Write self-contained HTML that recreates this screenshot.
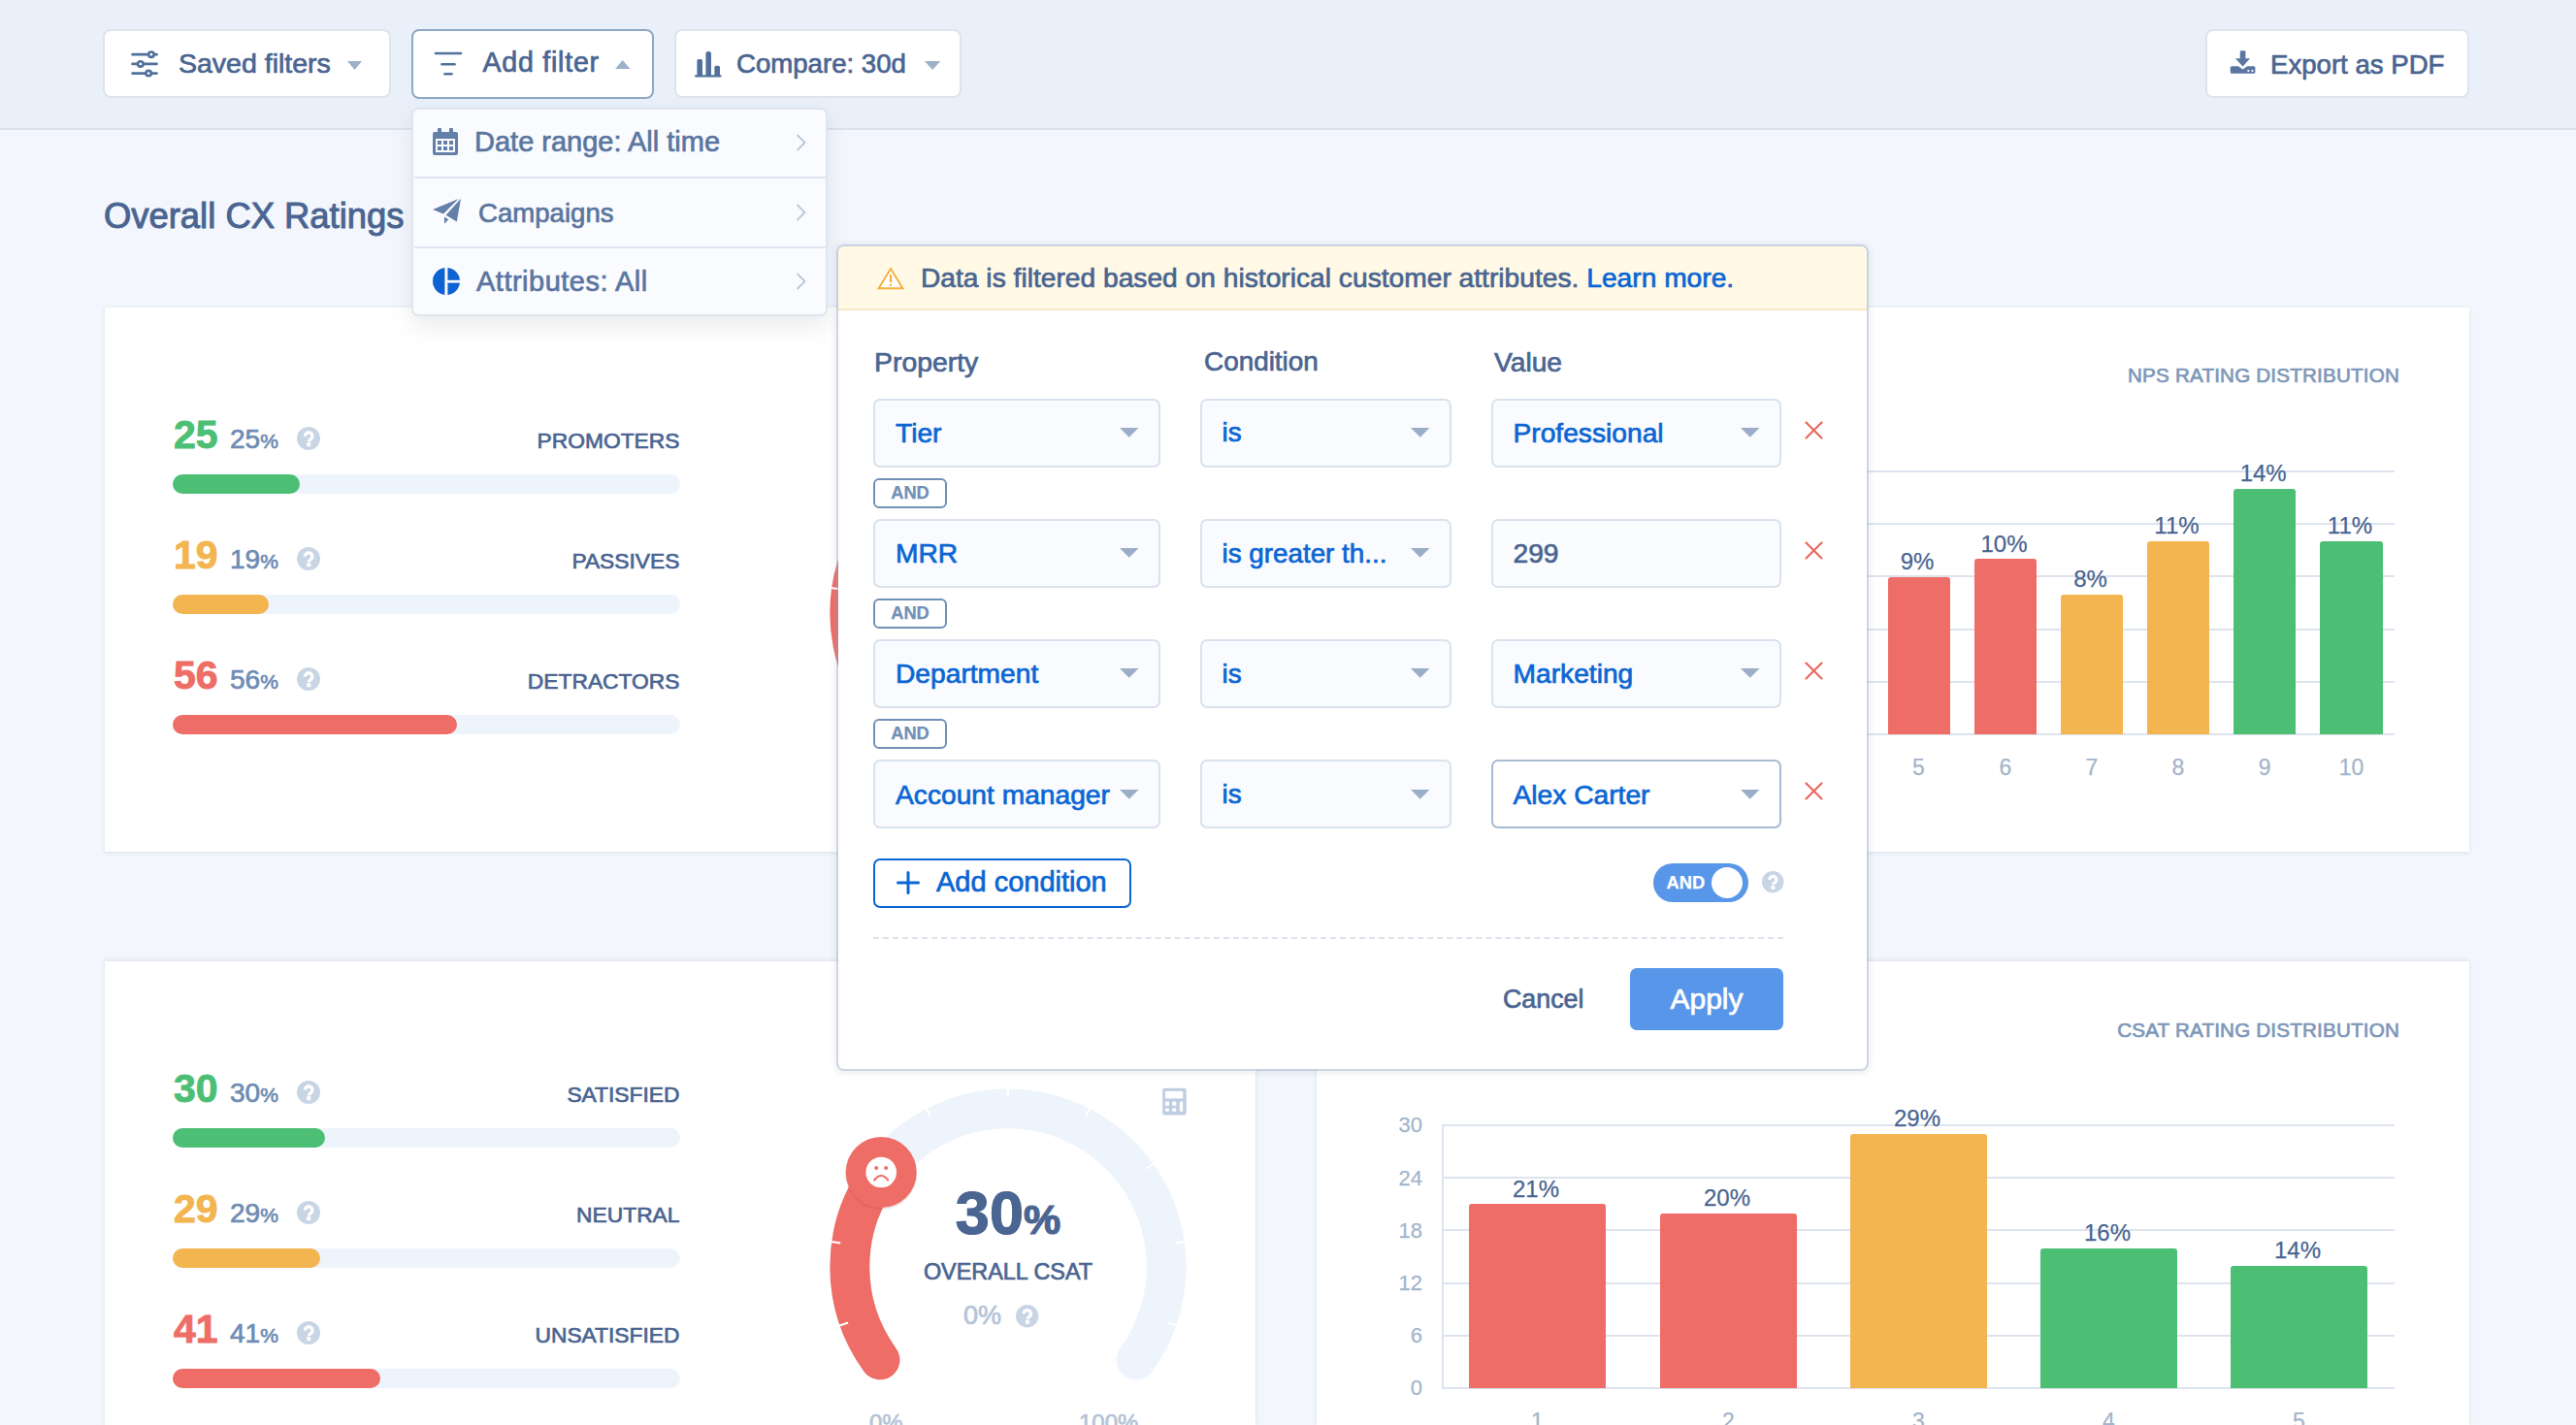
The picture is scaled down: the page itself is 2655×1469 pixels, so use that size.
<!DOCTYPE html>
<html><head><meta charset="utf-8"><style>
html,body{margin:0;padding:0;}
html{width:2655px;height:1469px;overflow:hidden;}
body{width:2655px;height:1469px;overflow:hidden;position:relative;background:#F3F6FC;font-family:"Liberation Sans", sans-serif;}
.t{position:absolute;white-space:nowrap;line-height:1;-webkit-text-stroke:0.7px currentColor;}
svg{overflow:visible;}
</style></head><body>
<div id="root" style="position:absolute;left:0;top:0;width:2655px;height:1469px;overflow:hidden;">
<div style="position:absolute;left:0px;top:0px;width:2655px;height:134px;box-sizing:border-box;background:#EAF0F9;border-bottom:2px solid #DAE2EC;"></div><div style="position:absolute;left:106px;top:30px;width:297px;height:71px;box-sizing:border-box;background:#fff;border:2px solid #DCE4EE;border-radius:8px;"></div><svg style="position:absolute;left:133px;top:48px;" width="32" height="34" viewBox="0 0 32 34"><g stroke="#52709C" stroke-width="2.7" stroke-linecap="round" fill="none">
<line x1="3.6" y1="8.2" x2="28.5" y2="8.2"/><line x1="3.6" y1="17.9" x2="28.5" y2="17.9"/><line x1="3.6" y1="27.6" x2="28.5" y2="27.6"/></g>
<g stroke="#52709C" stroke-width="2.6" fill="#fff"><circle cx="22.9" cy="8.2" r="2.7"/><circle cx="11.8" cy="17.9" r="2.7"/><circle cx="20.1" cy="27.6" r="2.7"/></g></svg><div class="t" style="left:184.0px;top:50.9px;font-size:28.5px;color:#4A6591;font-weight:400;">Saved filters</div><svg style="position:absolute;left:358px;top:63px;" width="15" height="9" viewBox="0 0 15 9"><polygon points="0,0 15,0 7.5,9" fill="#9DB1C9"/></svg><div style="position:absolute;left:424px;top:30px;width:250px;height:72px;box-sizing:border-box;background:#fff;border:2px solid #8FA8C7;border-radius:8px;"></div><svg style="position:absolute;left:446px;top:52px;" width="32" height="28" viewBox="0 0 32 28"><g stroke="#52709C" stroke-width="2.6" stroke-linecap="round">
<line x1="3" y1="3" x2="29" y2="3"/><line x1="9.5" y1="14.2" x2="22.5" y2="14.2"/><line x1="12.5" y1="24.3" x2="19.5" y2="24.3"/></g></svg><div class="t" style="left:497.5px;top:50.3px;font-size:28.6px;color:#4A6591;font-weight:400;letter-spacing:0.75px;">Add filter</div><svg style="position:absolute;left:633.5px;top:62px;" width="15.5" height="9" viewBox="0 0 15.5 9"><polygon points="0,9 15.5,9 7.75,0" fill="#9DB1C9"/></svg><div style="position:absolute;left:695px;top:30px;width:296px;height:71px;box-sizing:border-box;background:#fff;border:2px solid #DCE4EE;border-radius:8px;"></div><svg style="position:absolute;left:716px;top:52px;" width="28" height="28" viewBox="0 0 28 28"><g fill="#52709C">
<rect x="2.4" y="9" width="5.6" height="18" rx="1.5"/><rect x="11.4" y="1" width="5.6" height="26" rx="2.5"/><rect x="20.4" y="15.8" width="5.6" height="11" rx="1.5"/>
<rect x="0" y="25.2" width="27.6" height="2.4" rx="1"/></g></svg><div class="t" style="left:759.0px;top:51.6px;font-size:27.6px;color:#4A6591;font-weight:400;">Compare: 30d</div><svg style="position:absolute;left:952.5px;top:63.3px;" width="16.3" height="9" viewBox="0 0 16.3 9"><polygon points="0,0 16.3,0 8.15,9" fill="#9DB1C9"/></svg><div style="position:absolute;left:2273px;top:30px;width:272px;height:71px;box-sizing:border-box;background:#fff;border:2px solid #DCE4EE;border-radius:8px;"></div><svg style="position:absolute;left:2297px;top:51px;" width="29" height="26" viewBox="0 0 29 26"><g fill="#5A76A1">
<rect x="11.8" y="1.2" width="5.6" height="9" rx="0.8"/><polygon points="6.9,9.2 22.1,9.2 14.6,17.6"/>
<path d="M1.7,18.8 a1.5,1.5 0 0 1 1.5,-1.5 H9.9 L14.6,20.4 L19.2,17.3 H25.9 a1.5,1.5 0 0 1 1.5,1.5 V23.3 a1.5,1.5 0 0 1 -1.5,1.5 H3.2 a1.5,1.5 0 0 1 -1.5,-1.5 Z"/>
</g><g fill="#fff"><rect x="19.4" y="21" width="1.9" height="1.9"/><rect x="23.5" y="21" width="1.9" height="1.9"/></g></svg><div class="t" style="left:2340.0px;top:52.6px;font-size:27.6px;color:#4A6591;font-weight:400;">Export as PDF</div><div class="t" style="left:107.0px;top:205.2px;font-size:36.4px;color:#4A6591;font-weight:400;-webkit-text-stroke:1px currentColor;">Overall CX Ratings</div><div style="position:absolute;left:108px;top:317px;width:1186px;height:561px;box-sizing:border-box;background:#fff;box-shadow:0 1px 4px rgba(90,115,150,0.18);"></div><div style="position:absolute;left:1357px;top:317px;width:1188px;height:561px;box-sizing:border-box;background:#fff;box-shadow:0 1px 4px rgba(90,115,150,0.18);"></div><div style="position:absolute;left:108px;top:991px;width:1186px;height:478px;box-sizing:border-box;background:#fff;box-shadow:0 -1px 4px rgba(90,115,150,0.18);"></div><div style="position:absolute;left:1357px;top:991px;width:1188px;height:478px;box-sizing:border-box;background:#fff;box-shadow:0 -1px 4px rgba(90,115,150,0.18);"></div><div class="t" style="left:179.0px;top:427.5px;font-size:41px;color:#4DBF75;font-weight:700;-webkit-text-stroke:0.9px currentColor;">25</div><div class="t" style="left:237.0px;top:438.5px;font-size:28px;color:#6E8CB4;font-weight:400;">25<span style="font-size:21px">%</span></div><svg style="position:absolute;left:306px;top:439.7px;" width="24" height="24" viewBox="0 0 24 24"><circle cx="12" cy="12" r="12" fill="#C8D5E4"/><g transform="scale(1.000)"><path d="M8.4,9.6 A3.75,3.75 0 1 1 14.3,12.6 C12.9,13.5 12.3,14.1 12.3,15.2" stroke="#fff" stroke-width="3.4" fill="none"/><rect x="10.2" y="16.1" width="4.1" height="4.1" fill="#fff"/></g></svg><div class="t" style="right:1954.5px;top:442.9px;font-size:22.8px;color:#4A6591;font-weight:400;">PROMOTERS</div><div style="position:absolute;left:178px;top:489px;width:523px;height:20px;box-sizing:border-box;background:#EEF4FC;border-radius:10px;"></div><div style="position:absolute;left:178px;top:489px;width:130.75px;height:20px;box-sizing:border-box;background:#4DBF75;border-radius:10px;"></div><div class="t" style="left:179.0px;top:551.5px;font-size:41px;color:#F3B54F;font-weight:700;-webkit-text-stroke:0.9px currentColor;">19</div><div class="t" style="left:237.0px;top:562.5px;font-size:28px;color:#6E8CB4;font-weight:400;">19<span style="font-size:21px">%</span></div><svg style="position:absolute;left:306px;top:563.7px;" width="24" height="24" viewBox="0 0 24 24"><circle cx="12" cy="12" r="12" fill="#C8D5E4"/><g transform="scale(1.000)"><path d="M8.4,9.6 A3.75,3.75 0 1 1 14.3,12.6 C12.9,13.5 12.3,14.1 12.3,15.2" stroke="#fff" stroke-width="3.4" fill="none"/><rect x="10.2" y="16.1" width="4.1" height="4.1" fill="#fff"/></g></svg><div class="t" style="right:1954.5px;top:566.9px;font-size:22.8px;color:#4A6591;font-weight:400;">PASSIVES</div><div style="position:absolute;left:178px;top:613px;width:523px;height:20px;box-sizing:border-box;background:#EEF4FC;border-radius:10px;"></div><div style="position:absolute;left:178px;top:613px;width:99.37px;height:20px;box-sizing:border-box;background:#F3B54F;border-radius:10px;"></div><div class="t" style="left:179.0px;top:675.5px;font-size:41px;color:#EE6D66;font-weight:700;-webkit-text-stroke:0.9px currentColor;">56</div><div class="t" style="left:237.0px;top:686.5px;font-size:28px;color:#6E8CB4;font-weight:400;">56<span style="font-size:21px">%</span></div><svg style="position:absolute;left:306px;top:687.7px;" width="24" height="24" viewBox="0 0 24 24"><circle cx="12" cy="12" r="12" fill="#C8D5E4"/><g transform="scale(1.000)"><path d="M8.4,9.6 A3.75,3.75 0 1 1 14.3,12.6 C12.9,13.5 12.3,14.1 12.3,15.2" stroke="#fff" stroke-width="3.4" fill="none"/><rect x="10.2" y="16.1" width="4.1" height="4.1" fill="#fff"/></g></svg><div class="t" style="right:1954.5px;top:690.9px;font-size:22.8px;color:#4A6591;font-weight:400;">DETRACTORS</div><div style="position:absolute;left:178px;top:737px;width:523px;height:20px;box-sizing:border-box;background:#EEF4FC;border-radius:10px;"></div><div style="position:absolute;left:178px;top:737px;width:292.88px;height:20px;box-sizing:border-box;background:#EE6D66;border-radius:10px;"></div><div class="t" style="left:179.0px;top:1101.5px;font-size:41px;color:#4DBF75;font-weight:700;-webkit-text-stroke:0.9px currentColor;">30</div><div class="t" style="left:237.0px;top:1112.5px;font-size:28px;color:#6E8CB4;font-weight:400;">30<span style="font-size:21px">%</span></div><svg style="position:absolute;left:306px;top:1113.7px;" width="24" height="24" viewBox="0 0 24 24"><circle cx="12" cy="12" r="12" fill="#C8D5E4"/><g transform="scale(1.000)"><path d="M8.4,9.6 A3.75,3.75 0 1 1 14.3,12.6 C12.9,13.5 12.3,14.1 12.3,15.2" stroke="#fff" stroke-width="3.4" fill="none"/><rect x="10.2" y="16.1" width="4.1" height="4.1" fill="#fff"/></g></svg><div class="t" style="right:1954.5px;top:1116.9px;font-size:22.8px;color:#4A6591;font-weight:400;">SATISFIED</div><div style="position:absolute;left:178px;top:1163px;width:523px;height:20px;box-sizing:border-box;background:#EEF4FC;border-radius:10px;"></div><div style="position:absolute;left:178px;top:1163px;width:156.89999999999998px;height:20px;box-sizing:border-box;background:#4DBF75;border-radius:10px;"></div><div class="t" style="left:179.0px;top:1225.5px;font-size:41px;color:#F3B54F;font-weight:700;-webkit-text-stroke:0.9px currentColor;">29</div><div class="t" style="left:237.0px;top:1236.5px;font-size:28px;color:#6E8CB4;font-weight:400;">29<span style="font-size:21px">%</span></div><svg style="position:absolute;left:306px;top:1237.7px;" width="24" height="24" viewBox="0 0 24 24"><circle cx="12" cy="12" r="12" fill="#C8D5E4"/><g transform="scale(1.000)"><path d="M8.4,9.6 A3.75,3.75 0 1 1 14.3,12.6 C12.9,13.5 12.3,14.1 12.3,15.2" stroke="#fff" stroke-width="3.4" fill="none"/><rect x="10.2" y="16.1" width="4.1" height="4.1" fill="#fff"/></g></svg><div class="t" style="right:1954.5px;top:1240.9px;font-size:22.8px;color:#4A6591;font-weight:400;">NEUTRAL</div><div style="position:absolute;left:178px;top:1287px;width:523px;height:20px;box-sizing:border-box;background:#EEF4FC;border-radius:10px;"></div><div style="position:absolute;left:178px;top:1287px;width:151.66999999999996px;height:20px;box-sizing:border-box;background:#F3B54F;border-radius:10px;"></div><div class="t" style="left:179.0px;top:1349.5px;font-size:41px;color:#EE6D66;font-weight:700;-webkit-text-stroke:0.9px currentColor;">41</div><div class="t" style="left:237.0px;top:1360.5px;font-size:28px;color:#6E8CB4;font-weight:400;">41<span style="font-size:21px">%</span></div><svg style="position:absolute;left:306px;top:1361.7px;" width="24" height="24" viewBox="0 0 24 24"><circle cx="12" cy="12" r="12" fill="#C8D5E4"/><g transform="scale(1.000)"><path d="M8.4,9.6 A3.75,3.75 0 1 1 14.3,12.6 C12.9,13.5 12.3,14.1 12.3,15.2" stroke="#fff" stroke-width="3.4" fill="none"/><rect x="10.2" y="16.1" width="4.1" height="4.1" fill="#fff"/></g></svg><div class="t" style="right:1954.5px;top:1364.9px;font-size:22.8px;color:#4A6591;font-weight:400;">UNSATISFIED</div><div style="position:absolute;left:178px;top:1411px;width:523px;height:20px;box-sizing:border-box;background:#EEF4FC;border-radius:10px;"></div><div style="position:absolute;left:178px;top:1411px;width:214.43px;height:20px;box-sizing:border-box;background:#EE6D66;border-radius:10px;"></div><svg style="position:absolute;left:818.7px;top:412.4000000000001px;" width="440" height="440" viewBox="0 0 440 440"><path d="M88.01,315.90 A163.14999999999998,163.14999999999998 0 1 1 351.99,315.90" stroke="#EEF4FC" stroke-width="40.900000000000006" fill="none" stroke-linecap="round"/><path d="M88.01,315.90 A163.14999999999998,163.14999999999998 0 0 1 164.20,66.69" stroke="#EE6D66" stroke-width="40.900000000000006" fill="none" stroke-linecap="round"/><line x1="45.67" y1="280.71" x2="55.11" y2="277.42" stroke="#fff" stroke-width="2.2"/><line x1="37.24" y1="193.99" x2="47.14" y2="195.40" stroke="#fff" stroke-width="2.2"/><line x1="69.53" y1="113.06" x2="77.68" y2="118.86" stroke="#fff" stroke-width="2.2"/><line x1="135.33" y1="55.96" x2="139.92" y2="64.85" stroke="#fff" stroke-width="2.2"/><line x1="220.00" y1="35.40" x2="220.00" y2="45.40" stroke="#fff" stroke-width="2.2"/><line x1="304.67" y1="55.96" x2="300.08" y2="64.85" stroke="#fff" stroke-width="2.2"/><line x1="370.47" y1="113.06" x2="362.32" y2="118.86" stroke="#fff" stroke-width="2.2"/><line x1="402.76" y1="193.99" x2="392.86" y2="195.40" stroke="#fff" stroke-width="2.2"/><line x1="394.33" y1="280.71" x2="384.89" y2="277.42" stroke="#fff" stroke-width="2.2"/><circle cx="164.20" cy="68.19" r="37" fill="rgba(120,60,60,0.12)"/><circle cx="164.20" cy="66.69" r="36.5" fill="#EE6D66"/><circle cx="164.20" cy="66.69" r="15.8" fill="#fff"/><circle cx="159.20" cy="62.19" r="2" fill="#EE6D66"/><circle cx="169.20" cy="62.19" r="2" fill="#EE6D66"/><path d="M157.20,74.69 Q164.20,65.69 171.20,74.69" stroke="#EE6D66" stroke-width="2.2" fill="none" stroke-linecap="round"/></svg><svg style="position:absolute;left:1197px;top:447.4000000000001px;" width="27" height="30" viewBox="0 0 27 30"><rect x="1.2" y="0.7" width="24.5" height="27.7" rx="2.5" fill="#BFCEE1"/>
<g fill="#fff"><rect x="4" y="3.9" width="18.2" height="7.5"/><rect x="4" y="14.6" width="4" height="4.2"/><rect x="11.2" y="14.6" width="4" height="4.2"/>
<rect x="4" y="21.4" width="4" height="3.4" rx="0.8"/><rect x="11.2" y="21.4" width="4" height="3.4"/><rect x="18.9" y="14.6" width="3.3" height="10.2" rx="0.8"/></g></svg><svg style="position:absolute;left:818.7px;top:1086.4px;" width="440" height="440" viewBox="0 0 440 440"><path d="M88.01,315.90 A163.14999999999998,163.14999999999998 0 1 1 351.99,315.90" stroke="#EEF4FC" stroke-width="40.900000000000006" fill="none" stroke-linecap="round"/><path d="M88.01,315.90 A163.14999999999998,163.14999999999998 0 0 1 89.19,122.50" stroke="#EE6D66" stroke-width="40.900000000000006" fill="none" stroke-linecap="round"/><line x1="45.67" y1="280.71" x2="55.11" y2="277.42" stroke="#fff" stroke-width="2.2"/><line x1="37.24" y1="193.99" x2="47.14" y2="195.40" stroke="#fff" stroke-width="2.2"/><line x1="69.53" y1="113.06" x2="77.68" y2="118.86" stroke="#fff" stroke-width="2.2"/><line x1="135.33" y1="55.96" x2="139.92" y2="64.85" stroke="#fff" stroke-width="2.2"/><line x1="220.00" y1="35.40" x2="220.00" y2="45.40" stroke="#fff" stroke-width="2.2"/><line x1="304.67" y1="55.96" x2="300.08" y2="64.85" stroke="#fff" stroke-width="2.2"/><line x1="370.47" y1="113.06" x2="362.32" y2="118.86" stroke="#fff" stroke-width="2.2"/><line x1="402.76" y1="193.99" x2="392.86" y2="195.40" stroke="#fff" stroke-width="2.2"/><line x1="394.33" y1="280.71" x2="384.89" y2="277.42" stroke="#fff" stroke-width="2.2"/><circle cx="89.19" cy="124.00" r="37" fill="rgba(120,60,60,0.12)"/><circle cx="89.19" cy="122.50" r="36.5" fill="#EE6D66"/><circle cx="89.19" cy="122.50" r="15.8" fill="#fff"/><circle cx="84.19" cy="118.00" r="2" fill="#EE6D66"/><circle cx="94.19" cy="118.00" r="2" fill="#EE6D66"/><path d="M82.19,130.50 Q89.19,121.50 96.19,130.50" stroke="#EE6D66" stroke-width="2.2" fill="none" stroke-linecap="round"/></svg><div class="t" style="left:1039.0px;transform:translateX(-50%);top:1218.7px;font-size:63px;color:#4A6591;font-weight:700;-webkit-text-stroke:1.2px currentColor;">30<span style="font-size:43px">%</span></div><div class="t" style="left:1039.0px;transform:translateX(-50%);top:1300.3px;font-size:23.4px;color:#4A6591;font-weight:400;">OVERALL CSAT</div><div class="t" style="left:993.0px;top:1343.0px;font-size:27px;color:#B4C4D8;font-weight:400;">0%</div><svg style="position:absolute;left:1047.1px;top:1345.3px;" width="23.4" height="23.4" viewBox="0 0 23.4 23.4"><circle cx="11.7" cy="11.7" r="11.7" fill="#C8D5E4"/><g transform="scale(0.975)"><path d="M8.4,9.6 A3.75,3.75 0 1 1 14.3,12.6 C12.9,13.5 12.3,14.1 12.3,15.2" stroke="#fff" stroke-width="3.4" fill="none"/><rect x="10.2" y="16.1" width="4.1" height="4.1" fill="#fff"/></g></svg><div class="t" style="left:896.0px;top:1454.6px;font-size:24px;color:#B4C4D8;font-weight:400;">0%</div><div class="t" style="left:1112.0px;top:1454.6px;font-size:24px;color:#B4C4D8;font-weight:400;">100%</div><svg style="position:absolute;left:1197px;top:1121.4px;" width="27" height="30" viewBox="0 0 27 30"><rect x="1.2" y="0.7" width="24.5" height="27.7" rx="2.5" fill="#BFCEE1"/>
<g fill="#fff"><rect x="4" y="3.9" width="18.2" height="7.5"/><rect x="4" y="14.6" width="4" height="4.2"/><rect x="11.2" y="14.6" width="4" height="4.2"/>
<rect x="4" y="21.4" width="4" height="3.4" rx="0.8"/><rect x="11.2" y="21.4" width="4" height="3.4"/><rect x="18.9" y="14.6" width="3.3" height="10.2" rx="0.8"/></g></svg><div class="t" style="right:182.0px;top:377.3px;font-size:20.6px;color:#7E98B9;font-weight:400;letter-spacing:0.2px;">NPS RATING DISTRIBUTION</div><div style="position:absolute;left:1487px;top:756.0px;width:981px;height:2.0px;box-sizing:border-box;background:#DDE4EE;"></div><div class="t" style="right:1189.0px;top:746.4px;font-size:22px;color:#A3B5CB;font-weight:400;-webkit-text-stroke:0.25px currentColor;">0</div><div style="position:absolute;left:1487px;top:701.8px;width:981px;height:2.0px;box-sizing:border-box;background:#DDE4EE;"></div><div class="t" style="right:1189.0px;top:692.2px;font-size:22px;color:#A3B5CB;font-weight:400;-webkit-text-stroke:0.25px currentColor;">3</div><div style="position:absolute;left:1487px;top:647.6px;width:981px;height:2.0px;box-sizing:border-box;background:#DDE4EE;"></div><div class="t" style="right:1189.0px;top:638.0px;font-size:22px;color:#A3B5CB;font-weight:400;-webkit-text-stroke:0.25px currentColor;">6</div><div style="position:absolute;left:1487px;top:593.4px;width:981px;height:2.0px;box-sizing:border-box;background:#DDE4EE;"></div><div class="t" style="right:1189.0px;top:583.8px;font-size:22px;color:#A3B5CB;font-weight:400;-webkit-text-stroke:0.25px currentColor;">9</div><div style="position:absolute;left:1487px;top:539.2px;width:981px;height:2.0px;box-sizing:border-box;background:#DDE4EE;"></div><div class="t" style="right:1189.0px;top:529.6px;font-size:22px;color:#A3B5CB;font-weight:400;-webkit-text-stroke:0.25px currentColor;">12</div><div style="position:absolute;left:1487px;top:485.0px;width:981px;height:2.0px;box-sizing:border-box;background:#DDE4EE;"></div><div class="t" style="right:1189.0px;top:475.4px;font-size:22px;color:#A3B5CB;font-weight:400;-webkit-text-stroke:0.25px currentColor;">15</div><div style="position:absolute;left:1486px;top:485.0px;width:2px;height:273.0px;box-sizing:border-box;background:#DDE4EE;"></div><div style="position:absolute;left:1945.5px;top:594.6px;width:64.0px;height:162.39999999999998px;box-sizing:border-box;background:#EE6D66;border-radius:3px 3px 0 0;"></div><div class="t" style="left:1976.0px;transform:translateX(-50%);top:566.8px;font-size:24px;color:#4A6591;font-weight:400;-webkit-text-stroke:0.25px currentColor;">9%</div><div class="t" style="left:1977.5px;transform:translateX(-50%);top:780.0px;font-size:23px;color:#A3B5CB;font-weight:400;-webkit-text-stroke:0.25px currentColor;">5</div><div style="position:absolute;left:2035px;top:576.4px;width:64px;height:180.60000000000002px;box-sizing:border-box;background:#EE6D66;border-radius:3px 3px 0 0;"></div><div class="t" style="left:2065.5px;transform:translateX(-50%);top:548.6px;font-size:24px;color:#4A6591;font-weight:400;-webkit-text-stroke:0.25px currentColor;">10%</div><div class="t" style="left:2067.0px;transform:translateX(-50%);top:780.0px;font-size:23px;color:#A3B5CB;font-weight:400;-webkit-text-stroke:0.25px currentColor;">6</div><div style="position:absolute;left:2124px;top:612.5px;width:64px;height:144.5px;box-sizing:border-box;background:#F3B54F;border-radius:3px 3px 0 0;"></div><div class="t" style="left:2154.5px;transform:translateX(-50%);top:584.7px;font-size:24px;color:#4A6591;font-weight:400;-webkit-text-stroke:0.25px currentColor;">8%</div><div class="t" style="left:2156.0px;transform:translateX(-50%);top:780.0px;font-size:23px;color:#A3B5CB;font-weight:400;-webkit-text-stroke:0.25px currentColor;">7</div><div style="position:absolute;left:2213px;top:558.1px;width:64px;height:198.89999999999998px;box-sizing:border-box;background:#F3B54F;border-radius:3px 3px 0 0;"></div><div class="t" style="left:2243.5px;transform:translateX(-50%);top:530.3px;font-size:24px;color:#4A6591;font-weight:400;-webkit-text-stroke:0.25px currentColor;">11%</div><div class="t" style="left:2245.0px;transform:translateX(-50%);top:780.0px;font-size:23px;color:#A3B5CB;font-weight:400;-webkit-text-stroke:0.25px currentColor;">8</div><div style="position:absolute;left:2302.4px;top:504.1px;width:63.59999999999991px;height:252.89999999999998px;box-sizing:border-box;background:#4DBF75;border-radius:3px 3px 0 0;"></div><div class="t" style="left:2332.7px;transform:translateX(-50%);top:476.3px;font-size:24px;color:#4A6591;font-weight:400;-webkit-text-stroke:0.25px currentColor;">14%</div><div class="t" style="left:2334.2px;transform:translateX(-50%);top:780.0px;font-size:23px;color:#A3B5CB;font-weight:400;-webkit-text-stroke:0.25px currentColor;">9</div><div style="position:absolute;left:2391.4px;top:558.1px;width:64.19999999999982px;height:198.89999999999998px;box-sizing:border-box;background:#4DBF75;border-radius:3px 3px 0 0;"></div><div class="t" style="left:2422.0px;transform:translateX(-50%);top:530.3px;font-size:24px;color:#4A6591;font-weight:400;-webkit-text-stroke:0.25px currentColor;">11%</div><div class="t" style="left:2423.5px;transform:translateX(-50%);top:780.0px;font-size:23px;color:#A3B5CB;font-weight:400;-webkit-text-stroke:0.25px currentColor;">10</div><div class="t" style="right:182.0px;top:1051.6px;font-size:20.6px;color:#7E98B9;font-weight:400;letter-spacing:0.2px;">CSAT RATING DISTRIBUTION</div><div style="position:absolute;left:1487px;top:1430.0px;width:981px;height:2.0px;box-sizing:border-box;background:#DDE4EE;"></div><div class="t" style="right:1189.0px;top:1420.4px;font-size:22px;color:#A3B5CB;font-weight:400;-webkit-text-stroke:0.25px currentColor;">0</div><div style="position:absolute;left:1487px;top:1375.8px;width:981px;height:2.0px;box-sizing:border-box;background:#DDE4EE;"></div><div class="t" style="right:1189.0px;top:1366.2px;font-size:22px;color:#A3B5CB;font-weight:400;-webkit-text-stroke:0.25px currentColor;">6</div><div style="position:absolute;left:1487px;top:1321.6px;width:981px;height:2.0px;box-sizing:border-box;background:#DDE4EE;"></div><div class="t" style="right:1189.0px;top:1312.0px;font-size:22px;color:#A3B5CB;font-weight:400;-webkit-text-stroke:0.25px currentColor;">12</div><div style="position:absolute;left:1487px;top:1267.4px;width:981px;height:2.0px;box-sizing:border-box;background:#DDE4EE;"></div><div class="t" style="right:1189.0px;top:1257.8px;font-size:22px;color:#A3B5CB;font-weight:400;-webkit-text-stroke:0.25px currentColor;">18</div><div style="position:absolute;left:1487px;top:1213.2px;width:981px;height:2.0px;box-sizing:border-box;background:#DDE4EE;"></div><div class="t" style="right:1189.0px;top:1203.6px;font-size:22px;color:#A3B5CB;font-weight:400;-webkit-text-stroke:0.25px currentColor;">24</div><div style="position:absolute;left:1487px;top:1159.0px;width:981px;height:2.0px;box-sizing:border-box;background:#DDE4EE;"></div><div class="t" style="right:1189.0px;top:1149.4px;font-size:22px;color:#A3B5CB;font-weight:400;-webkit-text-stroke:0.25px currentColor;">30</div><div style="position:absolute;left:1486px;top:1159.0px;width:2px;height:273.0px;box-sizing:border-box;background:#DDE4EE;"></div><div style="position:absolute;left:1514px;top:1241.4px;width:141px;height:189.5999999999999px;box-sizing:border-box;background:#EE6D66;border-radius:3px 3px 0 0;"></div><div class="t" style="left:1583.0px;transform:translateX(-50%);top:1213.6px;font-size:24px;color:#4A6591;font-weight:400;-webkit-text-stroke:0.25px currentColor;">21%</div><div class="t" style="left:1584.5px;transform:translateX(-50%);top:1454.0px;font-size:23px;color:#A3B5CB;font-weight:400;-webkit-text-stroke:0.25px currentColor;">1</div><div style="position:absolute;left:1711px;top:1250.5px;width:141px;height:180.5px;box-sizing:border-box;background:#EE6D66;border-radius:3px 3px 0 0;"></div><div class="t" style="left:1780.0px;transform:translateX(-50%);top:1222.7px;font-size:24px;color:#4A6591;font-weight:400;-webkit-text-stroke:0.25px currentColor;">20%</div><div class="t" style="left:1781.5px;transform:translateX(-50%);top:1454.0px;font-size:23px;color:#A3B5CB;font-weight:400;-webkit-text-stroke:0.25px currentColor;">2</div><div style="position:absolute;left:1907px;top:1168.5px;width:141px;height:262.5px;box-sizing:border-box;background:#F3B54F;border-radius:3px 3px 0 0;"></div><div class="t" style="left:1976.0px;transform:translateX(-50%);top:1140.7px;font-size:24px;color:#4A6591;font-weight:400;-webkit-text-stroke:0.25px currentColor;">29%</div><div class="t" style="left:1977.5px;transform:translateX(-50%);top:1454.0px;font-size:23px;color:#A3B5CB;font-weight:400;-webkit-text-stroke:0.25px currentColor;">3</div><div style="position:absolute;left:2103px;top:1287px;width:141px;height:144.0px;box-sizing:border-box;background:#4DBF75;border-radius:3px 3px 0 0;"></div><div class="t" style="left:2172.0px;transform:translateX(-50%);top:1259.2px;font-size:24px;color:#4A6591;font-weight:400;-webkit-text-stroke:0.25px currentColor;">16%</div><div class="t" style="left:2173.5px;transform:translateX(-50%);top:1454.0px;font-size:23px;color:#A3B5CB;font-weight:400;-webkit-text-stroke:0.25px currentColor;">4</div><div style="position:absolute;left:2299px;top:1305px;width:141px;height:126.0px;box-sizing:border-box;background:#4DBF75;border-radius:3px 3px 0 0;"></div><div class="t" style="left:2368.0px;transform:translateX(-50%);top:1277.2px;font-size:24px;color:#4A6591;font-weight:400;-webkit-text-stroke:0.25px currentColor;">14%</div><div class="t" style="left:2369.5px;transform:translateX(-50%);top:1454.0px;font-size:23px;color:#A3B5CB;font-weight:400;-webkit-text-stroke:0.25px currentColor;">5</div><div style="position:absolute;left:424px;top:111px;width:429px;height:215px;box-sizing:border-box;background:#FAFBFE;border:2px solid #DFE6EF;border-radius:7px;box-shadow:0 10px 22px rgba(90,100,115,0.13);"></div><div style="position:absolute;left:427px;top:182px;width:424px;height:2px;box-sizing:border-box;background:#DFE6EF;"></div><div style="position:absolute;left:427px;top:254px;width:424px;height:2px;box-sizing:border-box;background:#DFE6EF;"></div><svg style="position:absolute;left:445px;top:131px;" width="28" height="30" viewBox="0 0 28 30"><g fill="#6480A8"><rect x="1" y="5" width="26" height="24" rx="2"/><rect x="6" y="1" width="4" height="7" rx="1"/><rect x="18" y="1" width="4" height="7" rx="1"/></g>
<rect x="4" y="12" width="20" height="14" fill="#FAFBFE"/>
<g fill="#6480A8"><rect x="6" y="14" width="4" height="4"/><rect x="12" y="14" width="4" height="4"/><rect x="18" y="14" width="4" height="4"/><rect x="6" y="20" width="4" height="4"/><rect x="12" y="20" width="4" height="4"/><rect x="18" y="20" width="4" height="4"/></g></svg><div class="t" style="left:489.0px;top:132.4px;font-size:29px;color:#5A76A0;font-weight:400;">Date range: All time</div><svg style="position:absolute;left:446px;top:204px;" width="30" height="28" viewBox="0 0 30 28"><g fill="#6480A8"><polygon points="0,12 26.5,1 11,16.6"/><polygon points="29,0.8 24.8,24.4 13.6,17.8"/><polygon points="12,19.6 16.2,22.2 12,26.8"/></g></svg><div class="t" style="left:493.0px;top:206.0px;font-size:27.6px;color:#5A76A0;font-weight:400;">Campaigns</div><svg style="position:absolute;left:445px;top:275px;" width="30" height="30" viewBox="0 0 30 30"><circle cx="15" cy="15" r="14" fill="#0D63D4"/><rect x="13.4" y="0" width="3" height="30" fill="#FAFBFE"/><rect x="15" y="13.8" width="16" height="2.8" fill="#FAFBFE"/></svg><div class="t" style="left:491.0px;top:276.4px;font-size:29px;color:#5A76A0;font-weight:400;letter-spacing:0.5px;">Attributes: All</div><svg style="position:absolute;left:820px;top:138px;" width="12" height="18" viewBox="0 0 12 18"><polyline points="2,1.5 9.5,9 2,16.5" stroke="#BAC7D8" stroke-width="1.8" fill="none" stroke-linecap="round"/></svg><svg style="position:absolute;left:820px;top:210px;" width="12" height="18" viewBox="0 0 12 18"><polyline points="2,1.5 9.5,9 2,16.5" stroke="#BAC7D8" stroke-width="1.8" fill="none" stroke-linecap="round"/></svg><svg style="position:absolute;left:820px;top:281px;" width="12" height="18" viewBox="0 0 12 18"><polyline points="2,1.5 9.5,9 2,16.5" stroke="#BAC7D8" stroke-width="1.8" fill="none" stroke-linecap="round"/></svg><div style="position:absolute;left:864px;top:254px;width:1060px;height:848px;box-sizing:border-box;background:#fff;border-radius:6px;box-shadow:0 0 0 2px rgba(140,162,195,0.34),0 1px 5px 4px rgba(150,155,165,0.15);"></div><div style="position:absolute;left:864px;top:254px;width:1060px;height:66px;box-sizing:border-box;background:#FFF9E5;border-bottom:2px solid #F5E8C6;border-radius:6px 6px 0 0;"></div><svg style="position:absolute;left:903px;top:274px;" width="30" height="26" viewBox="0 0 30 26"><path d="M15,3 L27.4,23.2 L2.6,23.2 Z" fill="#fff" stroke="#F4AE3C" stroke-width="1.9" stroke-linejoin="miter"/>
<line x1="15" y1="9.2" x2="15" y2="17" stroke="#F4AE3C" stroke-width="2.2"/><rect x="13.9" y="18.6" width="2.2" height="2.2" fill="#F4AE3C"/></svg><div class="t" style="left:949.0px;top:272.4px;font-size:28.2px;color:#4A6591;font-weight:400;">Data is filtered based on historical customer attributes. <span style="color:#0B66D3">Learn more.</span></div><div class="t" style="left:901.0px;top:359.2px;font-size:28.4px;color:#4A6591;font-weight:400;">Property</div><div class="t" style="left:1241.0px;top:359.4px;font-size:27.9px;color:#4A6591;font-weight:400;">Condition</div><div class="t" style="left:1540.0px;top:359.1px;font-size:28.2px;color:#4A6591;font-weight:400;">Value</div><div style="position:absolute;left:900px;top:410.5px;width:296px;height:71.0px;box-sizing:border-box;background:#F9FBFE;border:2px solid #D9E2ED;border-radius:7px;"></div><div class="t" style="left:923.0px;top:431.9px;font-size:28.2px;color:#0B66D3;font-weight:400;">Tier</div><svg style="position:absolute;left:1154.3px;top:441.0px;" width="19.5" height="9.7" viewBox="0 0 19.5 9.7"><polygon points="0,0 19.5,0 9.75,9.7" fill="#9AAEC7"/></svg><div style="position:absolute;left:1236.5px;top:410.5px;width:259.0px;height:71.0px;box-sizing:border-box;background:#F9FBFE;border:2px solid #D9E2ED;border-radius:7px;"></div><div class="t" style="left:1259.5px;top:432.3px;font-size:27.8px;color:#0B66D3;font-weight:400;">is</div><svg style="position:absolute;left:1453.8px;top:441.0px;" width="19.5" height="9.7" viewBox="0 0 19.5 9.7"><polygon points="0,0 19.5,0 9.75,9.7" fill="#9AAEC7"/></svg><div style="position:absolute;left:1536.5px;top:410.5px;width:299.5px;height:71.0px;box-sizing:border-box;background:#F9FBFE;border:2px solid #D9E2ED;border-radius:7px;"></div><div class="t" style="left:1559.5px;top:431.9px;font-size:28.2px;color:#0B66D3;font-weight:400;">Professional</div><svg style="position:absolute;left:1794.3px;top:441.0px;" width="19.5" height="9.7" viewBox="0 0 19.5 9.7"><polygon points="0,0 19.5,0 9.75,9.7" fill="#9AAEC7"/></svg><svg style="position:absolute;left:1859.5px;top:433.5px;" width="19" height="19" viewBox="0 0 19 19"><g stroke="#E8675E" stroke-width="2.2" stroke-linecap="round"><line x1="1.5" y1="1.5" x2="17.5" y2="17.5"/><line x1="17.5" y1="1.5" x2="1.5" y2="17.5"/></g></svg><div style="position:absolute;left:900px;top:492.5px;width:76px;height:31.0px;box-sizing:border-box;border:2px solid #7190B6;border-radius:6px;"></div><div class="t" style="left:938.0px;transform:translateX(-50%);top:499.0px;font-size:18.3px;color:#7190B6;font-weight:700;-webkit-text-stroke:0.25px currentColor;">AND</div><div style="position:absolute;left:900px;top:534.7px;width:296px;height:71.0px;box-sizing:border-box;background:#F9FBFE;border:2px solid #D9E2ED;border-radius:7px;"></div><div class="t" style="left:923.0px;top:556.1px;font-size:28.2px;color:#0B66D3;font-weight:400;">MRR</div><svg style="position:absolute;left:1154.3px;top:565.2px;" width="19.5" height="9.7" viewBox="0 0 19.5 9.7"><polygon points="0,0 19.5,0 9.75,9.7" fill="#9AAEC7"/></svg><div style="position:absolute;left:1236.5px;top:534.7px;width:259.0px;height:71.0px;box-sizing:border-box;background:#F9FBFE;border:2px solid #D9E2ED;border-radius:7px;"></div><div class="t" style="left:1259.5px;top:556.5px;font-size:27.8px;color:#0B66D3;font-weight:400;">is greater th...</div><svg style="position:absolute;left:1453.8px;top:565.2px;" width="19.5" height="9.7" viewBox="0 0 19.5 9.7"><polygon points="0,0 19.5,0 9.75,9.7" fill="#9AAEC7"/></svg><div style="position:absolute;left:1536.5px;top:534.7px;width:299.5px;height:71.0px;box-sizing:border-box;background:#FBFCFE;border:2px solid #D9E2ED;border-radius:7px;"></div><div class="t" style="left:1559.5px;top:556.1px;font-size:28.2px;color:#4A6591;font-weight:400;">299</div><svg style="position:absolute;left:1859.5px;top:557.7px;" width="19" height="19" viewBox="0 0 19 19"><g stroke="#E8675E" stroke-width="2.2" stroke-linecap="round"><line x1="1.5" y1="1.5" x2="17.5" y2="17.5"/><line x1="17.5" y1="1.5" x2="1.5" y2="17.5"/></g></svg><div style="position:absolute;left:900px;top:616.7px;width:76px;height:31.0px;box-sizing:border-box;border:2px solid #7190B6;border-radius:6px;"></div><div class="t" style="left:938.0px;transform:translateX(-50%);top:623.2px;font-size:18.3px;color:#7190B6;font-weight:700;-webkit-text-stroke:0.25px currentColor;">AND</div><div style="position:absolute;left:900px;top:658.9px;width:296px;height:71.0px;box-sizing:border-box;background:#F9FBFE;border:2px solid #D9E2ED;border-radius:7px;"></div><div class="t" style="left:923.0px;top:680.3px;font-size:28.2px;color:#0B66D3;font-weight:400;">Department</div><svg style="position:absolute;left:1154.3px;top:689.4px;" width="19.5" height="9.7" viewBox="0 0 19.5 9.7"><polygon points="0,0 19.5,0 9.75,9.7" fill="#9AAEC7"/></svg><div style="position:absolute;left:1236.5px;top:658.9px;width:259.0px;height:71.0px;box-sizing:border-box;background:#F9FBFE;border:2px solid #D9E2ED;border-radius:7px;"></div><div class="t" style="left:1259.5px;top:680.7px;font-size:27.8px;color:#0B66D3;font-weight:400;">is</div><svg style="position:absolute;left:1453.8px;top:689.4px;" width="19.5" height="9.7" viewBox="0 0 19.5 9.7"><polygon points="0,0 19.5,0 9.75,9.7" fill="#9AAEC7"/></svg><div style="position:absolute;left:1536.5px;top:658.9px;width:299.5px;height:71.0px;box-sizing:border-box;background:#F9FBFE;border:2px solid #D9E2ED;border-radius:7px;"></div><div class="t" style="left:1559.5px;top:680.3px;font-size:28.2px;color:#0B66D3;font-weight:400;">Marketing</div><svg style="position:absolute;left:1794.3px;top:689.4px;" width="19.5" height="9.7" viewBox="0 0 19.5 9.7"><polygon points="0,0 19.5,0 9.75,9.7" fill="#9AAEC7"/></svg><svg style="position:absolute;left:1859.5px;top:681.9px;" width="19" height="19" viewBox="0 0 19 19"><g stroke="#E8675E" stroke-width="2.2" stroke-linecap="round"><line x1="1.5" y1="1.5" x2="17.5" y2="17.5"/><line x1="17.5" y1="1.5" x2="1.5" y2="17.5"/></g></svg><div style="position:absolute;left:900px;top:740.9px;width:76px;height:31.0px;box-sizing:border-box;border:2px solid #7190B6;border-radius:6px;"></div><div class="t" style="left:938.0px;transform:translateX(-50%);top:747.4px;font-size:18.3px;color:#7190B6;font-weight:700;-webkit-text-stroke:0.25px currentColor;">AND</div><div style="position:absolute;left:900px;top:783.1px;width:296px;height:71.0px;box-sizing:border-box;background:#F9FBFE;border:2px solid #D9E2ED;border-radius:7px;"></div><div class="t" style="left:923.0px;top:804.5px;font-size:28.2px;color:#0B66D3;font-weight:400;">Account manager</div><svg style="position:absolute;left:1154.3px;top:813.6px;" width="19.5" height="9.7" viewBox="0 0 19.5 9.7"><polygon points="0,0 19.5,0 9.75,9.7" fill="#9AAEC7"/></svg><div style="position:absolute;left:1236.5px;top:783.1px;width:259.0px;height:71.0px;box-sizing:border-box;background:#F9FBFE;border:2px solid #D9E2ED;border-radius:7px;"></div><div class="t" style="left:1259.5px;top:804.9px;font-size:27.8px;color:#0B66D3;font-weight:400;">is</div><svg style="position:absolute;left:1453.8px;top:813.6px;" width="19.5" height="9.7" viewBox="0 0 19.5 9.7"><polygon points="0,0 19.5,0 9.75,9.7" fill="#9AAEC7"/></svg><div style="position:absolute;left:1536.5px;top:783.1px;width:299.5px;height:71.0px;box-sizing:border-box;background:#fff;border:2px solid #A9BBD1;border-radius:7px;"></div><div class="t" style="left:1559.5px;top:804.5px;font-size:28.2px;color:#0B66D3;font-weight:400;">Alex Carter</div><svg style="position:absolute;left:1794.3px;top:813.6px;" width="19.5" height="9.7" viewBox="0 0 19.5 9.7"><polygon points="0,0 19.5,0 9.75,9.7" fill="#9AAEC7"/></svg><svg style="position:absolute;left:1859.5px;top:806.1px;" width="19" height="19" viewBox="0 0 19 19"><g stroke="#E8675E" stroke-width="2.2" stroke-linecap="round"><line x1="1.5" y1="1.5" x2="17.5" y2="17.5"/><line x1="17.5" y1="1.5" x2="1.5" y2="17.5"/></g></svg><div style="position:absolute;left:900px;top:884.5px;width:266px;height:51.0px;box-sizing:border-box;border:2px solid #0B66D3;border-radius:7px;"></div><svg style="position:absolute;left:924px;top:898px;" width="24" height="24" viewBox="0 0 24 24"><g stroke="#0B66D3" stroke-width="3" stroke-linecap="round"><line x1="12" y1="1.5" x2="12" y2="22.5"/><line x1="1.5" y1="12" x2="22.5" y2="12"/></g></svg><div class="t" style="left:965.0px;top:894.5px;font-size:29px;color:#0B66D3;font-weight:400;">Add condition</div><div style="position:absolute;left:1704px;top:890px;width:98px;height:40px;box-sizing:border-box;background:#5896E9;border-radius:20px;"></div><div style="position:absolute;left:1763.8px;top:893.8px;width:32.4px;height:32.4px;border-radius:50%;background:#fff;"></div><div class="t" style="left:1717.5px;top:900.5px;font-size:18.3px;color:#fff;font-weight:700;-webkit-text-stroke:0.25px currentColor;">AND</div><svg style="position:absolute;left:1815.8px;top:898.4px;" width="22.4" height="22.4" viewBox="0 0 22.4 22.4"><circle cx="11.2" cy="11.2" r="11.2" fill="#C8D5E4"/><g transform="scale(0.933)"><path d="M8.4,9.6 A3.75,3.75 0 1 1 14.3,12.6 C12.9,13.5 12.3,14.1 12.3,15.2" stroke="#fff" stroke-width="3.4" fill="none"/><rect x="10.2" y="16.1" width="4.1" height="4.1" fill="#fff"/></g></svg><div style="position:absolute;left:900px;top:966px;width:938px;height:0;border-top:2px dashed #DCE3EC;"></div><div class="t" style="left:1549.0px;top:1016.5px;font-size:26.8px;color:#4A6591;font-weight:400;">Cancel</div><div style="position:absolute;left:1680px;top:998px;width:158px;height:64px;box-sizing:border-box;background:#5896E9;border-radius:7px;"></div><div class="t" style="left:1759.0px;transform:translateX(-50%);top:1015.4px;font-size:30px;color:#fff;font-weight:400;">Apply</div>
</div>
</body></html>
